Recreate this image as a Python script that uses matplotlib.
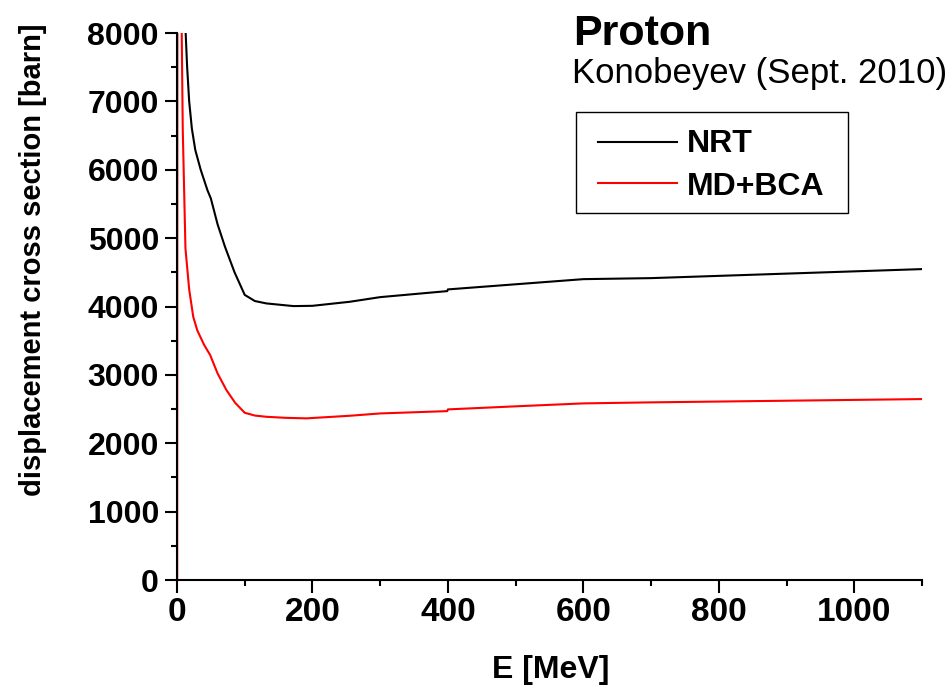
"""
Proton displacement cross section, NRT vs MD+BCA (Konobeyev, Sept. 2010)
"""
from matplotlib import pyplot as plt
from matplotlib.lines import Line2D
from matplotlib.patches import Rectangle
from matplotlib.ticker import MultipleLocator

# energy grid [MeV] and displacement cross sections [barn]
E_nrt = [10, 12.8, 15, 18, 22, 27, 35, 45, 50, 60, 71, 85, 100, 115, 132,
         172, 200, 255, 300, 399, 400, 500, 600, 700, 800, 900, 1000, 1100]
sigma_nrt = [9000, 8000, 7500, 7000, 6600, 6290, 6000, 5700, 5580, 5200, 4870,
             4500, 4170, 4080, 4045, 4006, 4010, 4069, 4137, 4225, 4250, 4325,
             4400, 4415, 4448, 4481, 4514, 4547]

E_md = [0.3, 1, 2, 4, 7, 8.5, 12.5, 18, 24, 30, 40, 49, 60, 73, 86, 100, 115,
        132, 160, 191, 255, 300, 399, 400, 500, 600, 700, 800, 900, 1000, 1100]
sigma_md = [0, 20000, 25000, 14000, 8000, 6600, 4850, 4250, 3850, 3650, 3440,
            3290, 3020, 2778, 2590, 2446, 2405, 2387, 2372, 2364, 2402, 2436,
            2470, 2495, 2540, 2583, 2598, 2610, 2622, 2634, 2646]

series_labels = ['NRT', 'MD+BCA']
series_colors = ['black', 'red']

FONT = ['Liberation Sans', 'DejaVu Sans']
W, H = 950, 689


def px(x, y):
    # pixel position (from top-left) -> figure fraction
    return x / W, 1 - y / H


def main():
    fig = plt.figure(figsize=(W / 100, H / 100), dpi=100)
    ax = fig.add_axes([0.1863, 0.1582, 0.7842, 0.7939])

    lines = []
    for E, sig, lab, col in zip([E_nrt, E_md], [sigma_nrt, sigma_md],
                                series_labels, series_colors):
        ln, = ax.plot(E, sig, color=col, lw=1.5, label=lab)
        lines.append(ln)

    ax.set_xlim(0, 1100)
    ax.set_ylim(0, 8000)
    ax.xaxis.set_major_locator(MultipleLocator(200))
    ax.xaxis.set_minor_locator(MultipleLocator(100))
    ax.yaxis.set_major_locator(MultipleLocator(1000))
    ax.yaxis.set_minor_locator(MultipleLocator(500))

    for side in ('top', 'right'):
        ax.spines[side].set_visible(False)
    for side in ('left', 'bottom'):
        ax.spines[side].set_linewidth(1.5)

    ax.tick_params(which='major', direction='out', length=9, width=1.5)
    ax.tick_params(which='minor', direction='out', length=4.5, width=1.5)
    ax.tick_params(axis='y', pad=4)
    ax.tick_params(axis='x', pad=3.5)

    for lab in ax.get_yticklabels():
        lab.set_fontfamily(FONT)
        lab.set_fontweight('bold')
        lab.set_fontsize(23)
    for lab in ax.get_xticklabels():
        lab.set_fontfamily(FONT)
        lab.set_fontweight('bold')
        lab.set_fontsize(24)

    fig.text(*px(551, 678), 'E [MeV]', family=FONT, fontweight='bold',
             fontsize=23, ha='center', va='baseline')
    fig.text(*px(33, 260), 'displacement cross section [barn]', family=FONT,
             fontweight='bold', fontsize=21, rotation=90,
             ha='center', va='center')

    # title block in the upper right
    fig.text(*px(573, 45), 'Proton', family=FONT,
             fontweight='bold', fontsize=31, ha='left', va='baseline')
    fig.text(*px(572, 83), 'Konobeyev (Sept. 2010)', family=FONT,
             fontsize=25, ha='left', va='baseline')

    # legend box
    x0, y0 = px(576, 213)
    x1, y1 = px(848, 112)
    fig.add_artist(Rectangle((x0, y0), x1 - x0, y1 - y0, transform=fig.transFigure,
                             facecolor='white', edgecolor='black', lw=1.0))
    for ln, ly, ty in zip(lines, [142, 183], [152, 195]):
        (lx0, yy), (lx1, _) = px(598, ly), px(677, ly)
        fig.add_artist(Line2D([lx0, lx1], [yy, yy], transform=fig.transFigure,
                              color=ln.get_color(), lw=1.5))
        fig.text(*px(687, ty), ln.get_label(), family=FONT, fontweight='bold',
                 fontsize=23, ha='left', va='baseline')

    plt.savefig('out.png', dpi=100)


if __name__ == "__main__":
    main()
